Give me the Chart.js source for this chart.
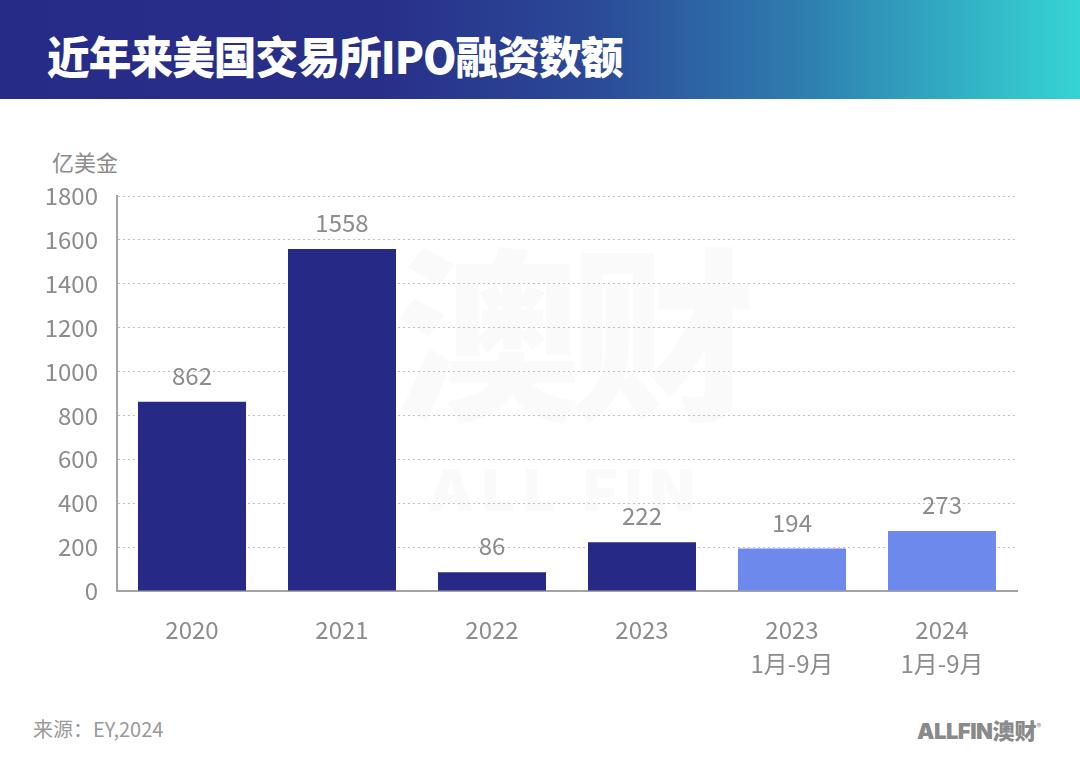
<!DOCTYPE html>
<html>
<head>
<meta charset="utf-8">
<script src="https://cdn.jsdelivr.net/npm/chart.js@4"></script>
<style>
  body { margin: 0; width: 1080px; height: 767px; background: #fff; position: relative; overflow: hidden; font-family: "Noto Sans CJK SC", "Noto Sans", sans-serif; }
  #header { position: absolute; left: 0; top: 0; width: 1080px; height: 99px;
    background: linear-gradient(90deg, #262b87 0%, #282f89 35%, #2b4a98 55%, #2f7fb0 75%, #33b3c6 90%, #36d4d4 100%); }
  #title { position: absolute; left: 47px; top: 25px; color: #fff; font-size: 44px; font-weight: 900; letter-spacing: -1px; line-height: 60px; transform: scaleX(0.97); transform-origin: left center; white-space: nowrap; }
  #unit { position: absolute; left: 52px; top: 145px; color: #8c8c8c; font-size: 22px; }
  #wm1 { position: absolute; left: 395px; top: 225px; color: #fafafa; font-size: 185px; font-weight: 900; line-height: 200px; letter-spacing: -10px; }
  #wm2 { position: absolute; left: 428px; top: 455px; color: #fafafa; font-family: Inter, sans-serif; font-size: 58px; font-weight: 900; letter-spacing: 8px; }
  #source { position: absolute; left: 33px; top: 714px; color: #999; font-size: 20px; }
  #logo { position: absolute; left: 917px; top: 713px; color: #8a8a8a; font-size: 22px; font-weight: 900; }
  #logo span.en { font-family: Inter, sans-serif; letter-spacing: -0.5px; }
  #logo sup { font-size: 10px; font-weight: 400; }
  #chartBox { position: absolute; left: 0; top: 100px; width: 1080px; height: 600px; }
</style>
</head>
<body>
<div id="header"><div id="title">近年来美国交易所IPO融资数额</div></div>
<div id="wm1">澳财</div>
<div id="wm2">ALL FIN</div>
<div id="unit">亿美金</div>
<div id="chartBox"><canvas id="myChart" width="1080" height="600"></canvas></div>
<div id="source">来源：EY,2024</div>
<div id="logo"><span class="en">ALLFIN</span>澳财<sup>®</sup></div>
<script>
// Data
const categories = ['2020', '2021', '2022', '2023', ['2023', '1月-9月'], ['2024', '1月-9月']]
const ipoAmounts = [862, 1558, 86, 222, 194, 273]
const barColors = ['#262a86', '#262a86', '#262a86', '#262a86', '#6d89ec', '#6d89ec']
const yTicks = [0, 200, 400, 600, 800, 1000, 1200, 1400, 1600, 1800]

const GRAY = '#8c8c8c'
const FONT = '"Noto Sans CJK SC", "Noto Sans", sans-serif'

// value labels above the bars
const valueLabels = {
    id: 'valueLabels',
    afterDraw(chart) {
        const ctx = chart.ctx
        const meta = chart.getDatasetMeta(0)
        ctx.save()
        ctx.font = '24px ' + FONT
        ctx.fillStyle = GRAY
        ctx.textAlign = 'center'
        ctx.textBaseline = 'middle'
        meta.data.forEach((bar, i) => {
            ctx.fillText(String(ipoAmounts[i]), bar.x, bar.y - 26)
        })
        ctx.restore()
    }
}

let ctx = document.getElementById('myChart')
let myChart = new Chart(ctx, {
    type: 'bar',
    data: {
        labels: categories,
        datasets: [{
            data: ipoAmounts,
            backgroundColor: barColors,
            borderWidth: 0,
            barPercentage: 0.72,
            categoryPercentage: 1
        }]
    },
    options: {
        responsive: false,
        animation: false,
        layout: { padding: { top: 96, right: 63, left: 0, bottom: 0 } },
        plugins: {
            legend: { display: false },
            tooltip: { enabled: false }
        },
        scales: {
            x: {
                z: 1,
                grid: { display: false, drawTicks: false },
                border: { display: true, color: '#a3a3a3', width: 2 },
                ticks: { color: GRAY, padding: 21, font: { family: FONT, size: 24, lineHeight: 1.45 }, maxRotation: 0 },
                afterFit: (scale) => { scale.height = 109 }
            },
            y: {
                z: 1,
                min: 0,
                max: 1800,
                afterBuildTicks: (scale) => { scale.ticks = yTicks.map(v => ({ value: v })) },
                grid: { color: 'rgba(185,185,195,0.9)', lineWidth: 1, drawTicks: false },
                border: { display: true, color: '#a3a3a3', width: 2, dash: [2, 3] },
                ticks: { color: GRAY, padding: 19, font: { family: FONT, size: 24 }, callback: (v) => String(v) },
                afterFit: (scale) => { scale.width = 117 }
            }
        }
    },
    plugins: [valueLabels]
})
</script>
</body>
</html>
